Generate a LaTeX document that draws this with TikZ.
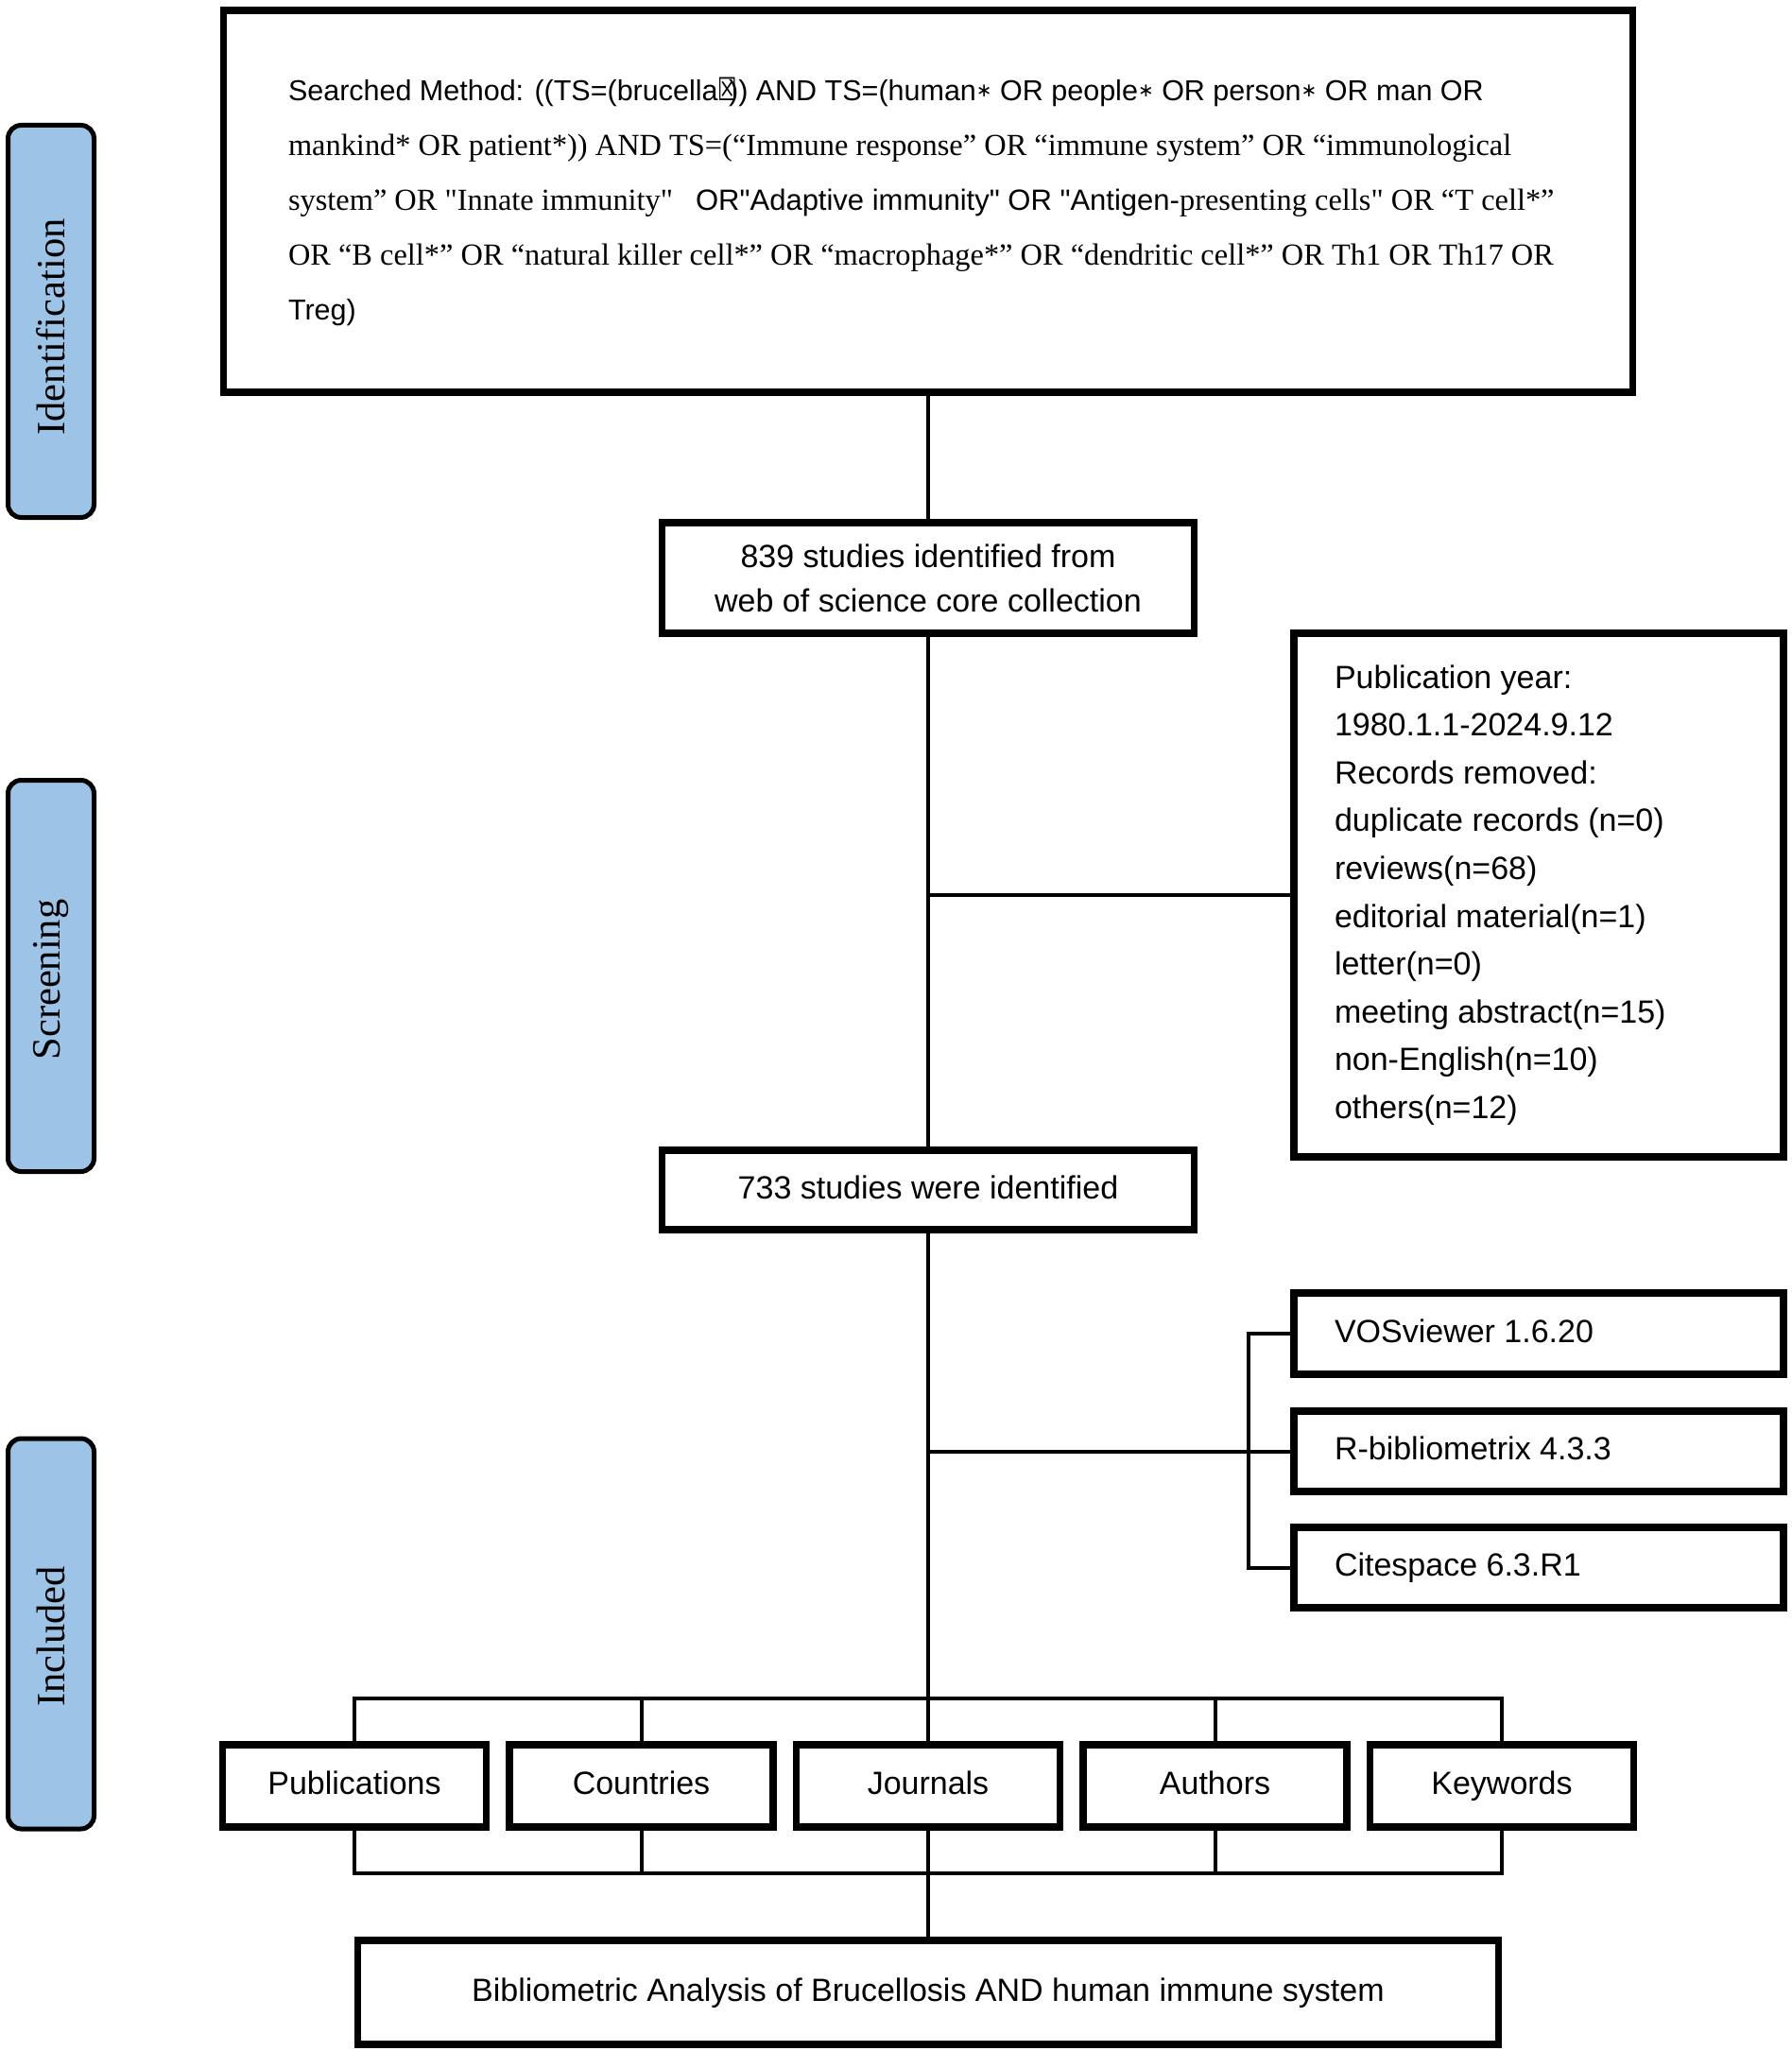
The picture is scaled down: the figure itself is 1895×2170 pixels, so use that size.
\documentclass[tikz,border=0pt]{standalone}
\usepackage{fontspec}
\setmainfont{Liberation Serif}
\setsansfont{Liberation Sans}
\newfontfamily\symfont{DejaVu Sans}
\definecolor{phase}{HTML}{9DC3E6}
\newcommand{\natsp}{\spaceskip=0pt\xspaceskip=0pt\relax}
\newcommand{\qsans}{\sffamily\fontsize{30.5}{58}\selectfont}
\newcommand{\qstar}{\raisebox{4pt}{\symfont\fontsize{20}{58}\selectfont ∗}}
\newcommand{\sq}{\textquotedbl}
\newcommand{\qline}[1]{\mbox{\natsp #1}}
\begin{document}
\begin{tikzpicture}[x=1pt,y=-1pt,
  box/.style={draw, line width=7.7pt, inner sep=0pt, fill=white,
    font=\sffamily\fontsize{34}{47}\selectfont, align=center},
  oneline/.style={box, text height=25pt, text depth=7pt},
  lbox/.style={oneline, align=left, text width=432pt, inner xsep=43pt, minimum width=518pt},
  phaselbl/.style={draw, line width=5pt, rounded corners=14pt, fill=phase, rotate=90,
    minimum width=415pt, minimum height=91pt, inner sep=0pt,
    font=\rmfamily\fontsize{42.5}{42.5}\selectfont},
  conn/.style={line width=4pt}]
\useasboundingbox (0,0) rectangle (1895,2170);

% phase labels
\node[phaselbl] (idl) at (54,340) {\kern-12pt Identification};
\node[phaselbl, minimum width=414pt] (scl) at (54,1032.5) {\kern-8pt Screening};
\node[phaselbl, minimum width=413pt] (inl) at (54,1728.5) {\kern-6pt Included};

% search box
\node[box, minimum width=1491pt, minimum height=404pt, align=left, text width=1354pt,
  font=\rmfamily\fontsize{32.4}{58}\selectfont] (search) at (982,213)
{\qline{\qsans Searched Method: ((TS=(brucella\scalebox{0.75}[1.1]{\symfont ☒}\kern-9pt)) AND TS=(human\qstar{} OR people\qstar{} OR person\qstar{} OR man OR}\\
\qline{mankind* OR patient*)) AND TS=(“Immune response” OR “immune system” OR “immunological}\\
\qline{system” OR \sq Innate immunity\sq\hspace{24pt}{\sffamily\fontsize{31}{58}\selectfont OR\sq Adaptive immunity\sq{} OR \sq Antigen-}presenting cells\sq{} OR “T cell*”}\\
\qline{OR “B cell*” OR “natural killer cell*” OR “macrophage*” OR “dendritic cell*” OR Th1 OR Th17 OR}\\
\qline{\qsans Treg)}};

\node[box, minimum width=563pt, minimum height=117pt] (n839) at (982,611.5)
  {839 studies identified from\\web of science core collection};

\node[box, align=left, text width=432pt, inner xsep=43pt, minimum width=518pt,
  minimum height=554pt, font=\sffamily\fontsize{34}{50.6}\selectfont\natsp] (rem) at (1628,947)
  {\natsp Publication year:\\\natsp 1980.1.1-2024.9.12\\\natsp Records removed:\\\natsp duplicate records (n=0)\\reviews(n=68)\\\natsp editorial material(n=1)\\letter(n=0)\\\natsp meeting abstract(n=15)\\non-English(n=10)\\others(n=12)};

\node[oneline, minimum width=563pt, minimum height=84pt] (n733) at (982,1259) {733 studies were identified};

\node[lbox, minimum height=86pt] (vos) at (1628,1411) {\natsp VOSviewer 1.6.20};
\node[lbox, minimum height=85pt] (rbib) at (1628,1535.5) {\natsp R-bibliometrix 4.3.3};
\node[lbox, minimum height=85pt] (cite) at (1628,1658.5) {\natsp Citespace 6.3.R1};

\node[oneline, minimum width=279pt, minimum height=87pt] (pub) at (375,1889.5) {Publications};
\node[oneline, minimum width=279pt, minimum height=87pt] (coun) at (678.5,1889.5) {Countries};
\node[oneline, minimum width=279pt, minimum height=87pt] (jour) at (982,1889.5) {Journals};
\node[oneline, minimum width=279pt, minimum height=87pt] (auth) at (1285.5,1889.5) {Authors};
\node[oneline, minimum width=279pt, minimum height=87pt] (key) at (1589,1889.5) {Keywords};

\node[oneline, minimum width=1207pt, minimum height=110pt] (final) at (982,2108)
  {Bibliometric Analysis of Brucellosis AND human immune system};

% connectors
\coordinate (bx) at (1321,1411);
\coordinate (bustop) at (982,1797);
\coordinate (busbot) at (982,1982);
\draw[conn] (search.south) -- (n839.north);
\draw[conn] (n839.south) -- (n733.north);
\draw[conn] (rem.west) -- (rem.west -| n839.south);
\draw[conn] (n733.south) -- (jour.north);
\draw[conn] (rbib.west) -- (rbib.west -| n733.south);
\draw[conn] (vos.west) -- (vos.west -| bx) -- (cite.west -| bx) -- (cite.west);
\draw[conn] (pub.north) -- (pub.north |- bustop) -- (key.north |- bustop) -- (key.north);
\draw[conn] (coun.north) -- (coun.north |- bustop);
\draw[conn] (auth.north) -- (auth.north |- bustop);
\draw[conn] (pub.south) -- (pub.south |- busbot) -- (key.south |- busbot) -- (key.south);
\draw[conn] (coun.south) -- (coun.south |- busbot);
\draw[conn] (auth.south) -- (auth.south |- busbot);
\draw[conn] (jour.south) -- (final.north);
\end{tikzpicture}
\end{document}
